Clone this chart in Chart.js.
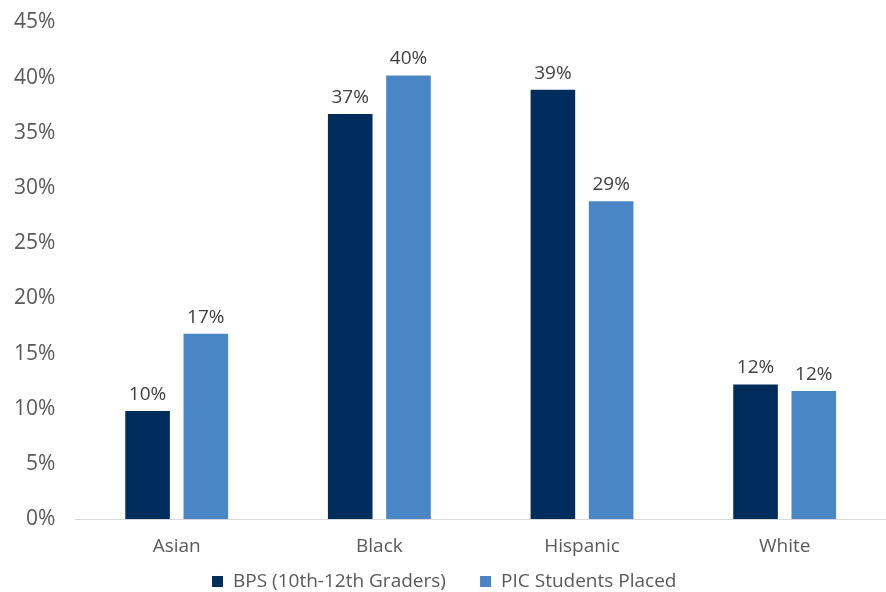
<!DOCTYPE html>
<html>
<head>
<meta charset="utf-8">
<script src="https://cdn.jsdelivr.net/npm/chart.js@4/dist/chart.umd.min.js"></script>
<style>
  html, body { margin: 0; padding: 0; background: #fff; }
  #wrap { width: 886px; height: 592px; }
</style>
</head>
<body>
<div id="wrap"><canvas id="raceChart"></canvas></div>
<script>
var categories = ['Asian', 'Black', 'Hispanic', 'White'];
var bpsValues = [9.9, 36.8, 39.0, 12.3];
var picValues = [16.9, 40.3, 28.9, 11.7];
var seriesNames = ['BPS (10th-12th Graders)', 'PIC Students Placed'];
var FONT = '"Open Sans", Lato, sans-serif';

// draws the % labels above each bar
var barLabels = {
  id: 'barLabels',
  afterDatasetsDraw: function(chart) {
    var ctx = chart.ctx;
    ctx.save();
    ctx.font = '19px ' + FONT;
    ctx.fillStyle = '#404040';
    ctx.textAlign = 'center';
    ctx.textBaseline = 'bottom';
    chart.data.datasets.forEach(function(ds, i) {
      chart.getDatasetMeta(i).data.forEach(function(bar, j) {
        ctx.fillText(Math.round(ds.data[j]) + '%', bar.x, bar.y - 6);
      });
    });
    ctx.restore();
  }
};

// legend box is a bit too tall, trim it so the items sit near the bottom edge
var legendTrim = {
  id: 'legendTrim',
  beforeInit: function(chart) {
    var fit = chart.legend.fit;
    chart.legend.fit = function() {
      fit.call(this);
      this.height -= 9;
    };
  }
};

document.addEventListener('DOMContentLoaded', function() {
  var ctx = document.getElementById('raceChart').getContext('2d');
  new Chart(ctx, {
    type: 'bar',
    data: {
      labels: categories,
      datasets: [{
        label: seriesNames[0],
        data: bpsValues,
        backgroundColor: '#002d5c',
        borderColor: '#ffffff',
        borderWidth: 1,
        categoryPercentage: 0.575,
        barPercentage: 0.8
      }, {
        label: seriesNames[1],
        data: picValues,
        backgroundColor: '#4a86c5',
        borderColor: '#ffffff',
        borderWidth: 1,
        categoryPercentage: 0.575,
        barPercentage: 0.8
      }]
    },
    options: {
      responsive: true,
      maintainAspectRatio: false,
      animation: false,
      layout: { padding: { top: 0, right: 0, left: 2, bottom: 0 } },
      plugins: {
        tooltip: { enabled: false },
        legend: {
          position: 'bottom',
          labels: {
            boxWidth: 12,
            boxHeight: 12,
            padding: 9,
            color: '#595959',
            font: { size: 19, family: FONT },
            generateLabels: function(chart) {
              var items = Chart.defaults.plugins.legend.labels.generateLabels(chart);
              // wider gap after the first entry
              items[0].text = items[0].text + '     ';
              return items;
            }
          }
        }
      },
      scales: {
        x: {
          grid: { display: false },
          border: { color: '#d9d9d9', width: 1 },
          ticks: {
            color: '#595959',
            padding: 8,
            font: { size: 19, family: FONT }
          },
          afterFit: function(scale) {
            scale.height -= 3;
          }
        },
        y: {
          min: 0,
          max: 45,
          grid: { display: false },
          border: { display: false },
          ticks: {
            stepSize: 5,
            color: '#595959',
            padding: 12,
            font: { size: 21, lineHeight: 1.0, family: FONT },
            callback: function(v) { return v + '%'; }
          }
        }
      }
    },
    plugins: [barLabels, legendTrim]
  });
});
</script>
</body>
</html>
